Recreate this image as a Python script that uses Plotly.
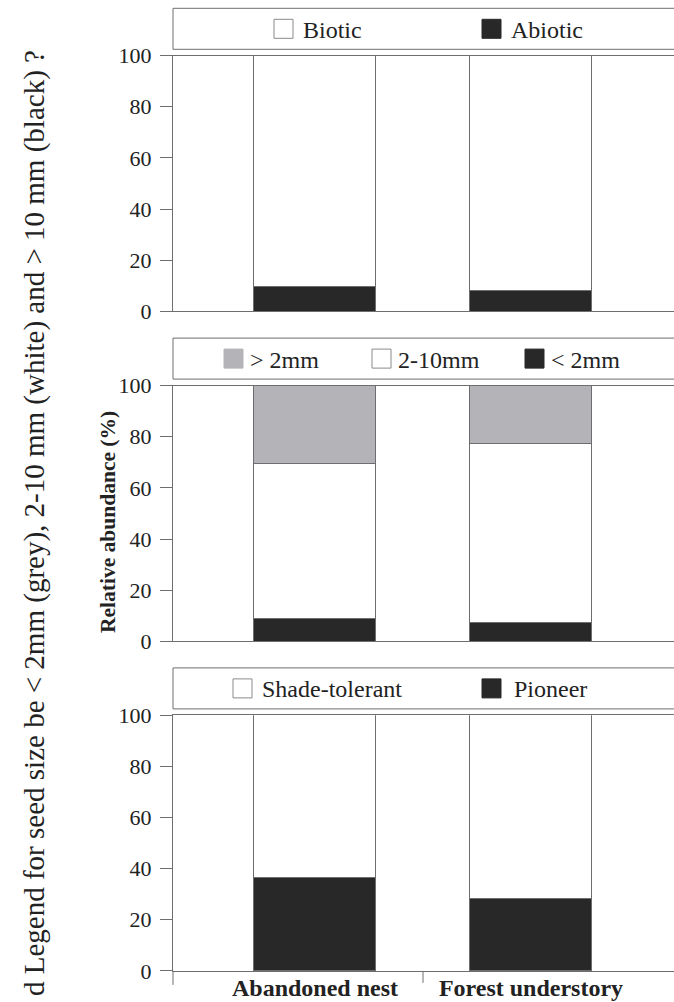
import plotly.graph_objects as go

W, H = 674, 1002

categories = ["Abandoned nest", "Forest understory"]

# Panel 1: dispersal mode
abiotic = [9.6, 8.1]
biotic = [90.4, 91.9]

# Panel 2: seed size
lt_2mm = [9.0, 7.3]
mid_2_10mm = [60.4, 70.1]
gt_2mm = [30.6, 22.6]

# Panel 3: successional status
pioneer = [36.4, 28.1]
shade_tolerant = [63.6, 71.9]

y_ticks = [0, 20, 40, 60, 80, 100]

BLACK = "#282828"
GREY = "#b4b4b8"
WHITE = "#ffffff"
LINE = "#6e6e6e"
FONT = "Liberation Serif, Times New Roman, Times, DejaVu Serif, serif"
TXT = "#222222"


def px(x):
    return x / W


def py(y):
    return 1 - y / H


# panel geometry (pixel y of value 0 and value 100)
panels = [(311.3, 55.6), (641.3, 385.6), (970.9, 715.2)]
x_left, x_right = 173, 674
cat_px = (315, 531)
unit = cat_px[1] - cat_px[0]
x_range = [(x_left - cat_px[0]) / unit, (x_right - cat_px[0]) / unit]
bar_w = 122 / unit

fig = go.Figure()

series = [
    (1, [("Abiotic", abiotic, BLACK), ("Biotic", biotic, WHITE)]),
    (2, [("< 2mm", lt_2mm, BLACK), ("2-10mm", mid_2_10mm, WHITE), ("> 2mm", gt_2mm, GREY)]),
    (3, [("Pioneer", pioneer, BLACK), ("Shade-tolerant", shade_tolerant, WHITE)]),
]
for i, group in series:
    for name, vals, col in group:
        fig.add_trace(go.Bar(
            x=[0, 1], y=vals, name=name, width=bar_w,
            marker=dict(color=col, line=dict(color=LINE, width=1)),
            xaxis="x" if i == 1 else f"x{i}", yaxis="y" if i == 1 else f"y{i}",
            showlegend=False, hoverinfo="y+name",
        ))

layout = dict(
    width=W, height=H, margin=dict(l=0, r=0, t=0, b=0, autoexpand=False),
    paper_bgcolor="white", plot_bgcolor="white", barmode="stack", bargap=0,
    font=dict(family=FONT, color=TXT),
)
for i, (y0, y100) in enumerate(panels, start=1):
    sx = "" if i == 1 else str(i)
    layout[f"xaxis{sx}"] = dict(
        domain=[px(x_left), 1.0], range=x_range, anchor=f"y{sx}",
        showline=True, mirror=True, linecolor=LINE, linewidth=1,
        showgrid=False, zeroline=False, fixedrange=True, automargin=False,
        tickvals=[0, 1], ticktext=[f"<b>{c}</b>" for c in categories],
        showticklabels=(i == 3), ticks="", ticklabelstandoff=-5,
        tickfont=dict(family=FONT, size=24, color=TXT),
    )
    layout[f"yaxis{sx}"] = dict(
        domain=[py(y0), py(y100)], range=[0, 100], anchor=f"x{sx}",
        tickvals=y_ticks, showline=True, linecolor=LINE, linewidth=1,
        ticks="outside", ticklen=12, tickcolor=LINE, tickwidth=1,
        showgrid=False, zeroline=False, fixedrange=True, automargin=False,
        ticklabelstandoff=4,
        tickfont=dict(family=FONT, size=22, color=TXT),
    )
fig.update_layout(**layout)

shapes = []
annotations = []

# legend boxes and entries
legends = [
    (0, [("Biotic", WHITE, 274, 301), ("Abiotic", BLACK, 482, 509)]),
    (1, [("> 2mm", GREY, 224, 248), ("2-10mm", WHITE, 372, 396), ("< 2mm", BLACK, 525, 549)]),
    (2, [("Shade-tolerant", WHITE, 233, 260), ("Pioneer", BLACK, 482, 512)]),
]
for k, items in legends:
    off = 329.8 * k
    top, bot = 8.3 + off, 49.3 + off
    shapes.append(dict(type="rect", xref="paper", yref="paper",
                       x0=px(x_left), x1=px(W + 10), y0=py(bot), y1=py(top),
                       line=dict(color=LINE, width=1), fillcolor="rgba(0,0,0,0)"))
    cy = (top + bot) / 2
    for label, col, sq_x, tx in items:
        shapes.append(dict(type="rect", xref="paper", yref="paper",
                           x0=px(sq_x), x1=px(sq_x + 19), y0=py(cy + 9.5), y1=py(cy - 9.5),
                           line=dict(color="#8a8a8a" if col == WHITE else col, width=1),
                           fillcolor=col))
        annotations.append(dict(text=label, xref="paper", yref="paper",
                                x=px(tx), y=py(cy + 1), xanchor="left", yanchor="middle",
                                showarrow=False, font=dict(family=FONT, size=24, color=TXT)))

# bottom panel: boundary tick and y-axis extension
shapes.append(dict(type="line", xref="x3", yref="paper", x0=0.5, x1=0.5,
                   y0=py(panels[2][0]), y1=py(panels[2][0] + 12), line=dict(color=LINE, width=1)))
shapes.append(dict(type="line", xref="paper", yref="paper", x0=px(x_left), x1=px(x_left),
                   y0=py(panels[2][0]), y1=py(panels[2][0] + 14), line=dict(color=LINE, width=1)))

annotations.append(dict(text="<b>Relative abundance (%)</b>", xref="paper", yref="paper",
                        x=px(108), y=py(522), xanchor="center", yanchor="middle",
                        textangle=-90, showarrow=False,
                        font=dict(family=FONT, size=21.5, color=TXT)))
annotations.append(dict(
    text="d Legend for seed size be &lt; 2mm (grey), 2-10 mm (white) and &gt; 10 mm (black) ?",
    xref="paper", yref="paper", x=px(34), y=py(48), xanchor="center", yanchor="top",
    textangle=-90, showarrow=False, font=dict(family=FONT, size=29, color=TXT)))

fig.update_layout(shapes=shapes, annotations=annotations)
fig.write_html(
    "out.html",
    config={"displayModeBar": False},
    post_script="document.body.style.margin='0';document.body.style.overflow='hidden';",
)
